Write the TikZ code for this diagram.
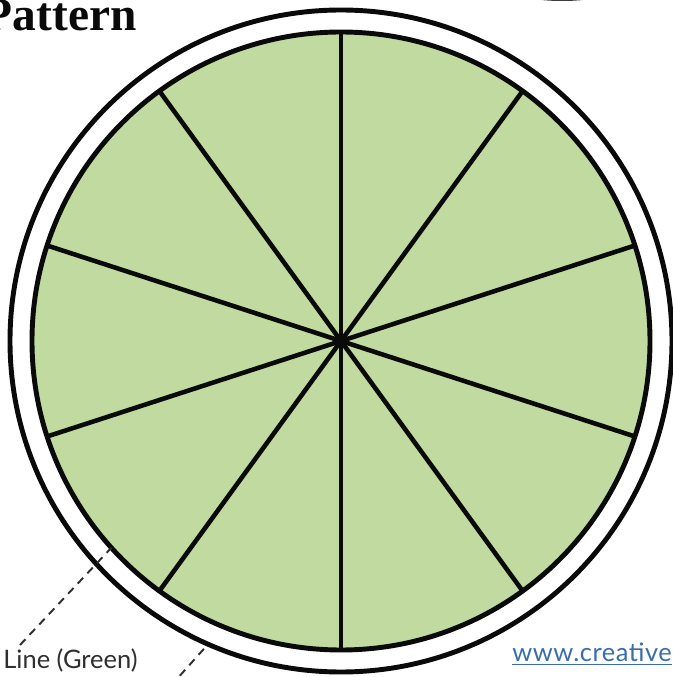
\documentclass[tikz,border=0pt]{standalone}
\usepackage{fontspec}
\usepackage{tikz}
\usetikzlibrary{calc}
\usepackage{xcolor}
\newfontfamily\labelfont{Lato}
\newfontfamily\webfont[LetterSpace=2]{Lato}
\newfontfamily\titlefont{Liberation Serif}
\definecolor{leafgreen}{HTML}{C0DAA0}
\definecolor{linkblue}{HTML}{3A6DAA}
\definecolor{ink}{HTML}{0A0A0A}

\begin{document}
\begin{tikzpicture}[
    x=0.02cm, y=0.02cm,
    rim/.style={
        draw=ink,
        line width=2.8pt,
    },
    spoke/.style={
        draw=ink,
        line width=2.6pt,
    },
    lead/.style={
        draw=ink!85,
        line width=1.1pt,
        dash pattern=on 4.5pt off 3.5pt,
    },
    lbl/.style={
        font=\labelfont\fontsize{14.5}{16}\selectfont,
        text=ink!85,
        inner sep=0pt,
    },
]

% --- Frame, same size as the page ---
\clip (0,0) rectangle (673,677);
\useasboundingbox (0,0) rectangle (673,677);

\coordinate (c) at (341,336);

% --- Outer white rim and green disc ---
\draw[rim, fill=white] (c) circle (331);
\draw[rim, fill=leafgreen] (c) circle (309);

% --- Ten sectors: five diameters ---
\draw[spoke] ($(c)+(90:309)$) -- ($(c)+(270:309)$);
\draw[spoke] ($(c)+(54:309)$) -- ($(c)+(234:309)$);
\draw[spoke] ($(c)+(18:309)$) -- ($(c)+(198:309)$);
\draw[spoke] ($(c)+(-18:309)$) -- ($(c)+(162:309)$);
\draw[spoke] ($(c)+(-54:309)$) -- ($(c)+(126:309)$);
\fill[ink] (c) circle (4);

% --- Title, cut at the left edge ---
\node[anchor=base east, inner sep=0pt, text=ink,
    font=\titlefont\bfseries\fontsize{27}{29}\selectfont] (title) at (137,646) {Pattern};

% --- Small dark shape at the top edge ---
\fill[ink!80] (562,681) ellipse (34 and 5);

% --- Label with its dashed leaders ---
\node[lbl, anchor=base west] (linelbl) at (3,9) {Line (Green)};
\coordinate (leadA) at (20,32);
\draw[lead] (leadA) -- ($(c)+(222:309)$);
\coordinate (leadB) at (176,-3);
\draw[lead] ($(c)+(246:337)$) -- (leadB);

% --- Web address at the right edge ---
\node[anchor=base west, inner sep=0pt, text=linkblue,
    font=\webfont\fontsize{14.5}{16}\selectfont] (web) at (512,15)
    {\underline{www.creative}};

\end{tikzpicture}
\end{document}
